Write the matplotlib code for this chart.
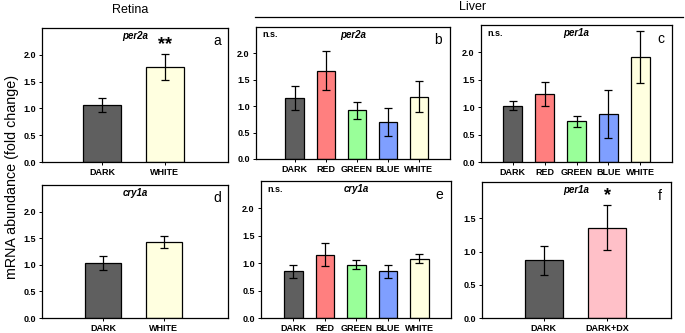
import matplotlib
matplotlib.use("Agg")
import matplotlib.pyplot as plt

plt.rcParams['font.family'] = ['Liberation Sans', 'DejaVu Sans']

# bar colours per condition
colors = {
    'DARK': '#5f5f5f',
    'RED': '#ff7f7f',
    'GREEN': '#99ff99',
    'BLUE': '#7f9fff',
    'WHITE': '#ffffe0',
    'DARK+DX': '#ffc0c8',
}

two_groups = ['DARK', 'WHITE']
five_groups = ['DARK', 'RED', 'GREEN', 'BLUE', 'WHITE']
dx_groups = ['DARK', 'DARK+DX']

# panel a - retina per2a
a_mean = [1.06, 1.77]
a_err = [0.13, 0.24]
# panel b - liver per2a
b_mean = [1.16, 1.67, 0.92, 0.70, 1.18]
b_err = [0.23, 0.37, 0.16, 0.26, 0.29]
# panel c - liver per1a
c_mean = [1.03, 1.24, 0.74, 0.87, 1.92]
c_err = [0.08, 0.22, 0.10, 0.44, 0.47]
# panel d - retina cry1a
d_mean = [1.04, 1.43]
d_err = [0.13, 0.12]
# panel e - liver cry1a
e_mean = [0.85, 1.15, 0.97, 0.85, 1.08]
e_err = [0.12, 0.21, 0.08, 0.12, 0.08]
# panel f - liver per1a with DX
f_mean = [0.87, 1.36]
f_err = [0.22, 0.34]

W, H = 685, 333
fig = plt.figure(figsize=(W / 100, H / 100), dpi=100)


def box(x0, y0, x1, y1):
    # pixel box (top-left origin) -> figure fraction
    return [x0 / W, 1 - y1 / H, (x1 - x0) / W, (y1 - y0) / H]


def panel(rect, groups, means, errs, gene, letter, ns=False, star=None,
          ylim=2.5, yticks=(0, 0.5, 1.0, 1.5, 2.0), xlim=None):
    ax = fig.add_axes(rect)
    xs = list(range(len(groups)))
    ax.bar(xs, means, width=0.6, color=[colors[g] for g in groups],
           edgecolor='black', linewidth=0.9, zorder=2)
    ax.errorbar(xs, means, yerr=errs, fmt='none', ecolor='black',
                elinewidth=0.9, capsize=3, capthick=0.9, zorder=3)
    ax.set_ylim(0, ylim)
    ax.set_xlim(*xlim)
    ax.set_yticks(yticks)
    ax.set_yticklabels(['%.1f' % t for t in yticks], fontweight='bold', fontsize=6.5)
    ax.set_xticks(xs)
    ax.set_xticklabels(groups, fontweight='bold', fontsize=6.5)
    ax.tick_params(axis='both', direction='out', length=2.5, width=0.7, pad=2)
    ax.tick_params(axis='x', pad=1.5)
    for s in ax.spines.values():
        s.set_linewidth(0.9)
    ax.text(0.5, 0.94, gene, transform=ax.transAxes, ha='center', va='center',
            fontsize=7, fontweight='bold', style='italic')
    ax.text(0.94, 0.9, letter, transform=ax.transAxes, ha='center', va='center',
            fontsize=10)
    if ns:
        ax.text(0.035, 0.94, 'n.s.', transform=ax.transAxes, ha='left', va='center',
                fontsize=6.5, fontweight='bold')
    if star:
        i = len(groups) - 1
        ax.text(xs[i], means[i] + errs[i] + 0.01 * ylim, star, ha='center', va='bottom',
                fontsize=13, fontweight='bold')
    return ax


panel(box(42, 28, 228, 162), two_groups, a_mean, a_err, 'per2a', 'a', star='**',
      xlim=(-0.95, 2.0))
panel(box(256, 27, 450, 159), five_groups, b_mean, b_err, 'per2a', 'b', ns=True,
      xlim=(-1.25, 5.0))
panel(box(481, 25, 672, 162), five_groups, c_mean, c_err, 'per1a', 'c', ns=True,
      xlim=(-1.0, 5.0))
panel(box(42, 185, 228, 318), two_groups, d_mean, d_err, 'cry1a', 'd',
      xlim=(-1.0, 2.05))
panel(box(261, 181, 451, 318), five_groups, e_mean, e_err, 'cry1a', 'e', ns=True,
      xlim=(-1.03, 5.0))
panel(box(482, 182, 671, 318), dx_groups, f_mean, f_err, 'per1a', 'f', star='*',
      ylim=2.05, yticks=(0, 0.5, 1.0, 1.5), xlim=(-0.97, 2.0))

fig.text(130 / W, 1 - 10 / H, 'Retina', ha='center', va='center', fontsize=9)
fig.text(473 / W, 1 - 7 / H, 'Liver', ha='center', va='center', fontsize=9)
fig.add_artist(plt.Line2D([255 / W, 683 / W], [1 - 17 / H, 1 - 17 / H],
                          color='black', linewidth=0.9))
fig.text(12 / W, 1 - 177 / H, 'mRNA abundance (fold change)', ha='center',
         va='center', rotation=90, fontsize=10.3)

fig.savefig('out.png', dpi=100)
